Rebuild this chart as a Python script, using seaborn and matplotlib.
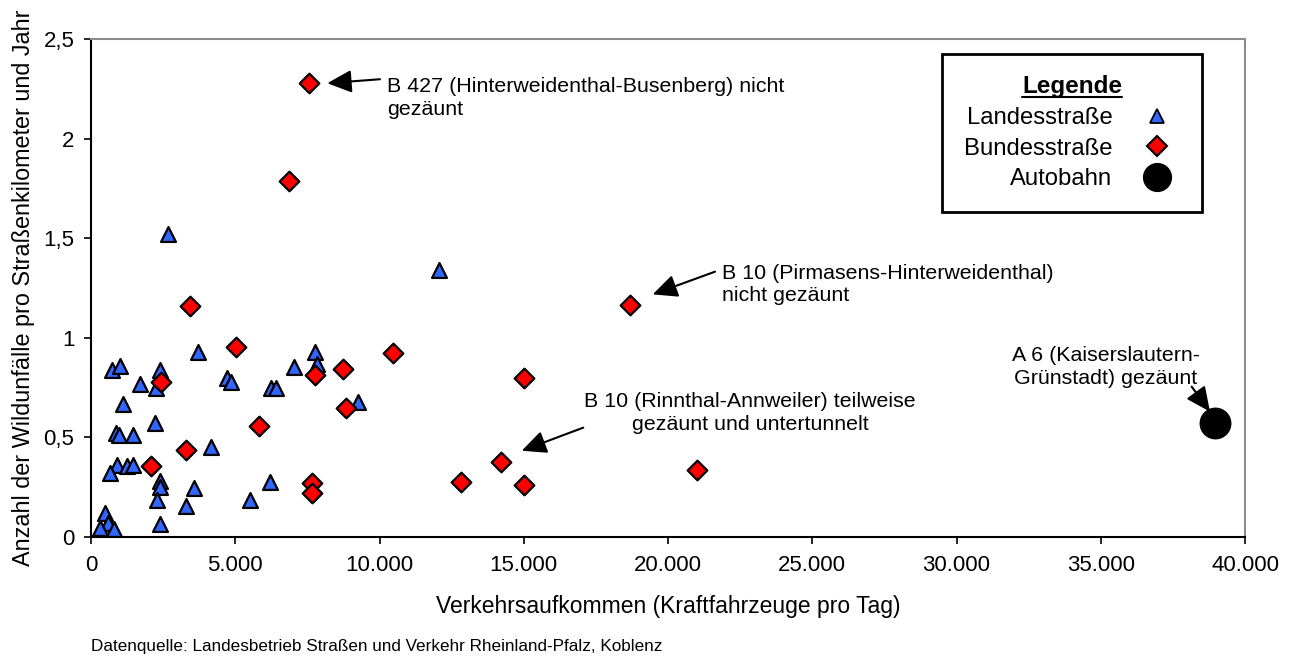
import matplotlib
matplotlib.use("Agg")
import matplotlib.pyplot as plt
import matplotlib.ticker as mticker
from matplotlib.lines import Line2D
import seaborn as sns

# Landesstraße (traffic per day, accidents per km and year)
land_traffic = [2680, 3700, 720, 1020, 2380, 1690, 2260, 4730, 4850, 6240,
                6410, 7030, 1120, 2230, 880, 980, 1440, 4150, 890, 670,
                1240, 1440, 2390, 2390, 2280, 3580, 3290, 5510, 6210, 2400,
                490, 600, 320, 810, 7760, 7850, 9270, 12060]
land_rate = [1.52, 0.93, 0.84, 0.86, 0.84, 0.77, 0.75, 0.80, 0.78, 0.75,
             0.75, 0.855, 0.67, 0.57, 0.52, 0.51, 0.51, 0.45, 0.36, 0.32,
             0.355, 0.36, 0.28, 0.25, 0.185, 0.245, 0.155, 0.185, 0.275, 0.067,
             0.12, 0.072, 0.043, 0.038, 0.93, 0.868, 0.68, 1.34]

# Bundesstraße
bund_traffic = [7560, 6860, 3420, 5030, 2430, 5820, 3300, 2070, 7760, 8720,
                8830, 7650, 7650, 10460, 18690, 15010, 14200, 12810, 15020, 20990]
bund_rate = [2.28, 1.785, 1.16, 0.955, 0.78, 0.555, 0.435, 0.355, 0.813, 0.842,
             0.649, 0.27, 0.219, 0.924, 1.165, 0.797, 0.375, 0.277, 0.259, 0.336]

# Autobahn
auto_traffic = [38960]
auto_rate = [0.57]

legend_labels = ["Landesstraße", "Bundesstraße", "Autobahn"]

sns.set_style("white")
plt.rcParams['font.family'] = ['Liberation Sans', 'DejaVu Sans']
plt.rcParams['text.color'] = 'black'
plt.rcParams['axes.labelcolor'] = 'black'

fig = plt.figure(figsize=(13, 6.59), dpi=100)
ax = fig.add_axes([91 / 1300, 122 / 659, 1154 / 1300, 498 / 659])

blue = "#3366FF"
red = "#FF0000"

sns.scatterplot(x=auto_traffic, y=auto_rate, marker="o", s=460, color="black",
                edgecolor="black", linewidth=1.5, ax=ax, zorder=3)
sns.scatterplot(x=land_traffic, y=land_rate, marker="^", s=115, color=blue,
                edgecolor="black", linewidth=1.6, ax=ax, zorder=3)
sns.scatterplot(x=bund_traffic, y=bund_rate, marker="D", s=100, color=red,
                edgecolor="black", linewidth=1.6, ax=ax, zorder=4)

ax.set_xlim(0, 40000)
ax.set_ylim(0, 2.5)
ax.set_xticks(range(0, 40001, 5000))
ax.set_yticks([0, 0.5, 1, 1.5, 2, 2.5])
ax.xaxis.set_major_formatter(mticker.FuncFormatter(lambda v, p: f"{int(v):,}".replace(",", ".")))
ax.yaxis.set_major_formatter(mticker.FuncFormatter(lambda v, p: f"{v:g}".replace(".", ",")))
ax.tick_params(axis="both", which="major", bottom=True, left=True, direction="out",
               length=5, width=1.2, color="black", labelsize=16, labelcolor="black")
ax.tick_params(axis="x", pad=8)
ax.tick_params(axis="y", pad=7)

for side in ["left", "bottom"]:
    ax.spines[side].set_color("black")
    ax.spines[side].set_linewidth(1.5)
for side in ["top", "right"]:
    ax.spines[side].set_color("#8c8c8c")
    ax.spines[side].set_linewidth(1.5)

ax.set_xlabel("Verkehrsaufkommen (Kraftfahrzeuge pro Tag)", fontsize=16.5, labelpad=14)
ax.set_ylabel("Anzahl der Wildunfälle pro Straßenkilometer und Jahr", fontsize=16.8, labelpad=6)

# annotations
note_size = 15.4
ax.text(10250, 2.31, "B 427 (Hinterweidenthal-Busenberg) nicht\ngezäunt",
        ha="left", va="top", fontsize=note_size, linespacing=1.25)
ax.text(21860, 1.267, "B 10 (Pirmasens-Hinterweidenthal)\nnicht gezäunt",
        ha="left", va="center", fontsize=note_size, linespacing=1.25)
ax.text(22840, 0.621, "B 10 (Rinnthal-Annweiler) teilweise\ngezäunt und untertunnelt",
        ha="center", va="center", multialignment="center", fontsize=note_size, linespacing=1.25)
ax.text(35180, 0.855, "A 6 (Kaiserslautern-\nGrünstadt) gezäunt",
        ha="center", va="center", multialignment="center", fontsize=note_size, linespacing=1.25)

arrow = dict(arrowstyle="-|>,head_length=0.75,head_width=0.35", color="black",
             lw=1.5, shrinkA=0, shrinkB=0, mutation_scale=20)
ax.annotate("", xy=(8190, 2.278), xytext=(10017, 2.298), arrowprops=arrow)
ax.annotate("", xy=(19470, 1.218), xytext=(21630, 1.332), arrowprops=arrow)
ax.annotate("", xy=(14929, 0.433), xytext=(17064, 0.549), arrowprops=arrow)
ax.annotate("", xy=(38787, 0.629), xytext=(38153, 0.7545), arrowprops=arrow)

# legend
handles = [
    Line2D([], [], marker="^", ls="none", markerfacecolor=blue, markeredgecolor="black",
           markeredgewidth=1.3, markersize=10),
    Line2D([], [], marker="D", ls="none", markerfacecolor=red, markeredgecolor="black",
           markeredgewidth=1.5, markersize=10),
    Line2D([], [], marker="o", ls="none", markerfacecolor="black", markeredgecolor="black",
           markersize=20),
]
leg = ax.legend(handles, legend_labels, title="Legende", markerfirst=False,
                loc="upper right", bbox_to_anchor=(1202 / 1300, (659 - 54) / 659),
                bbox_transform=fig.transFigure, frameon=True, fancybox=False,
                edgecolor="black", framealpha=1, fontsize=17.2,
                title_fontproperties={"weight": "bold", "size": 17.5},
                borderpad=0.9, labelspacing=0.36, handlelength=2.0,
                handletextpad=0.85, borderaxespad=0)
leg.get_frame().set_linewidth(2)

fig.text(91 / 1300, (659 - 647) / 659,
         "Datenquelle: Landesbetrieb Straßen und Verkehr Rheinland-Pfalz, Koblenz",
         ha="left", va="center", fontsize=12.3)

# underline the legend title
fig.canvas.draw()
tb = leg.get_title().get_window_extent()
inv = fig.transFigure.inverted()
(x0, y0), (x1, _) = inv.transform([(tb.x0, tb.y0 + 2), (tb.x1, tb.y0 + 2)])
fig.add_artist(Line2D([x0, x1], [y0, y0], transform=fig.transFigure, color="black", lw=1.5))

fig.savefig("out.png", dpi=100)
